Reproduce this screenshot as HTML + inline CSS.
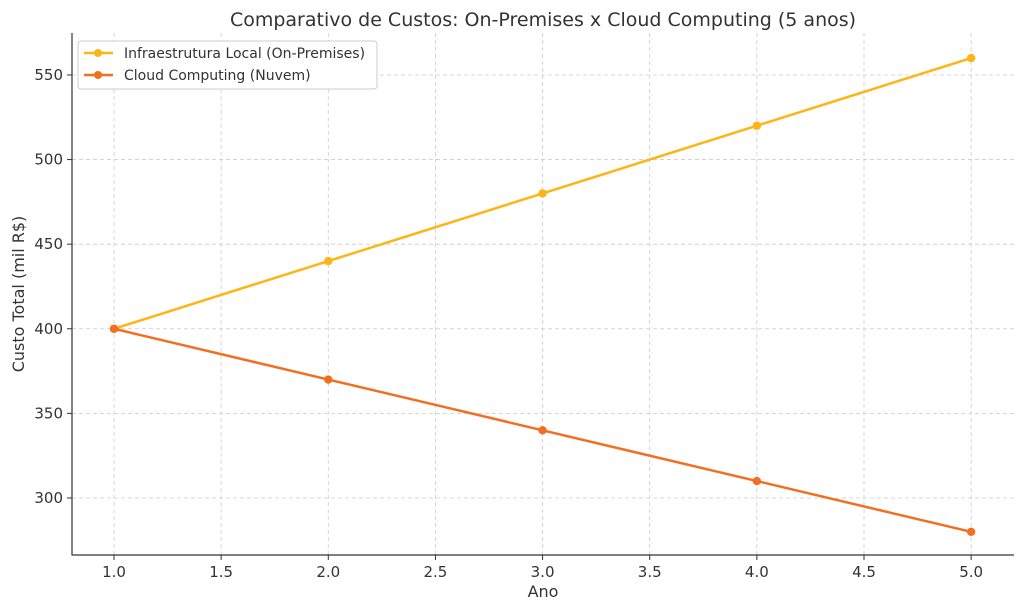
<!DOCTYPE html>
<html><head><meta charset="utf-8"><style>
body{margin:0;background:#fff;}
svg{display:block;font-family:"DejaVu Sans","Liberation Sans",sans-serif;}
</style></head><body>
<svg id="chart" width="1024" height="611" viewBox="0 0 1024 611">
<text x="543" y="26" text-anchor="middle" font-size="19" fill="#333">Comparativo de Custos: On-Premises x Cloud Computing (5 anos)</text>
<g id="grid"></g><g id="axes"></g><g id="series"></g>
<text x="543" y="597" text-anchor="middle" font-size="16" fill="#333">Ano</text>
<text transform="translate(24,294) rotate(-90)" text-anchor="middle" font-size="16" fill="#333">Custo Total (mil R$)</text>
<g>
<rect x="78" y="41" width="299" height="48" rx="3" fill="#fff" stroke="#ccc"/>
<g><line x1="84" y1="53" x2="113" y2="53" stroke="#FDB515" stroke-width="2.5"/><circle cx="98" cy="53" r="4" fill="#FDB515"/><text x="124" y="58" font-size="14" fill="#333">Infraestrutura Local (On-Premises)</text></g>
<g><line x1="84" y1="75" x2="113" y2="75" stroke="#F26F21" stroke-width="2.5"/><circle cx="98" cy="75" r="4" fill="#F26F21"/><text x="124" y="80" font-size="14" fill="#333">Cloud Computing (Nuvem)</text></g>
</g>
</svg>
<script>
const years=[1,2,3,4,5];
const onPremises=[400,440,480,520,560];
const cloud=[400,370,340,310,280];
const xTicks=[1.0,1.5,2.0,2.5,3.0,3.5,4.0,4.5,5.0];
const yTicks=[300,350,400,450,500,550];
const L=72,R=1014,T=33,B=555;
const xmin=0.804,xmax=5.2,ymin=266.3,ymax=574.8;
const X=v=>L+(v-xmin)/(xmax-xmin)*(R-L);
const Y=v=>B-(v-ymin)/(ymax-ymin)*(B-T);
const NS="http://www.w3.org/2000/svg";
function mk(tag,attrs,parent){const e=document.createElementNS(NS,tag);for(const k in attrs)e.setAttribute(k,attrs[k]);parent.appendChild(e);return e;}
const grid=document.getElementById('grid'),axes=document.getElementById('axes'),series=document.getElementById('series');
xTicks.forEach(t=>{const x=X(t);
 const g=mk('line',{x1:x,x2:x,y1:T,y2:B,stroke:'#ccc','stroke-dasharray':'4,3','stroke-width':0.8},grid);
 
 
 mk('line',{x1:x,x2:x,y1:B,y2:B+5,stroke:'#333'},axes);
 const tx=mk('text',{x:x,y:B+22,'text-anchor':'middle','font-size':15,fill:'#333'},axes);tx.textContent=t.toFixed(1);
 
 
});
yTicks.forEach(t=>{const y=Y(t);
 const g=mk('line',{x1:L,x2:R,y1:y,y2:y,stroke:'#ccc','stroke-dasharray':'4,3','stroke-width':0.8},grid);
 
 
 mk('line',{x1:L-5,x2:L,y1:y,y2:y,stroke:'#333'},axes);
 const tx=mk('text',{x:L-9,y:y+5,'text-anchor':'end','font-size':15,fill:'#333'},axes);tx.textContent=t;
 
 
});
const ax=mk('path',{d:`M${L},${T}V${B}H${R}`,fill:'none',stroke:'#333','stroke-width':1.2},axes);


function draw(vals,color,name){
 const p=mk('polyline',{points:years.map((y,i)=>X(y)+','+Y(vals[i])).join(' '),fill:'none',stroke:color,'stroke-width':2.5},series);
 
 
 years.forEach((y,i)=>{const c=mk('circle',{cx:X(y),cy:Y(vals[i]),r:4.2,fill:color},series);
  
  });
}
draw(onPremises,'#FDB515','onpremises');
draw(cloud,'#F26F21','cloud');
</script>
</body></html>
